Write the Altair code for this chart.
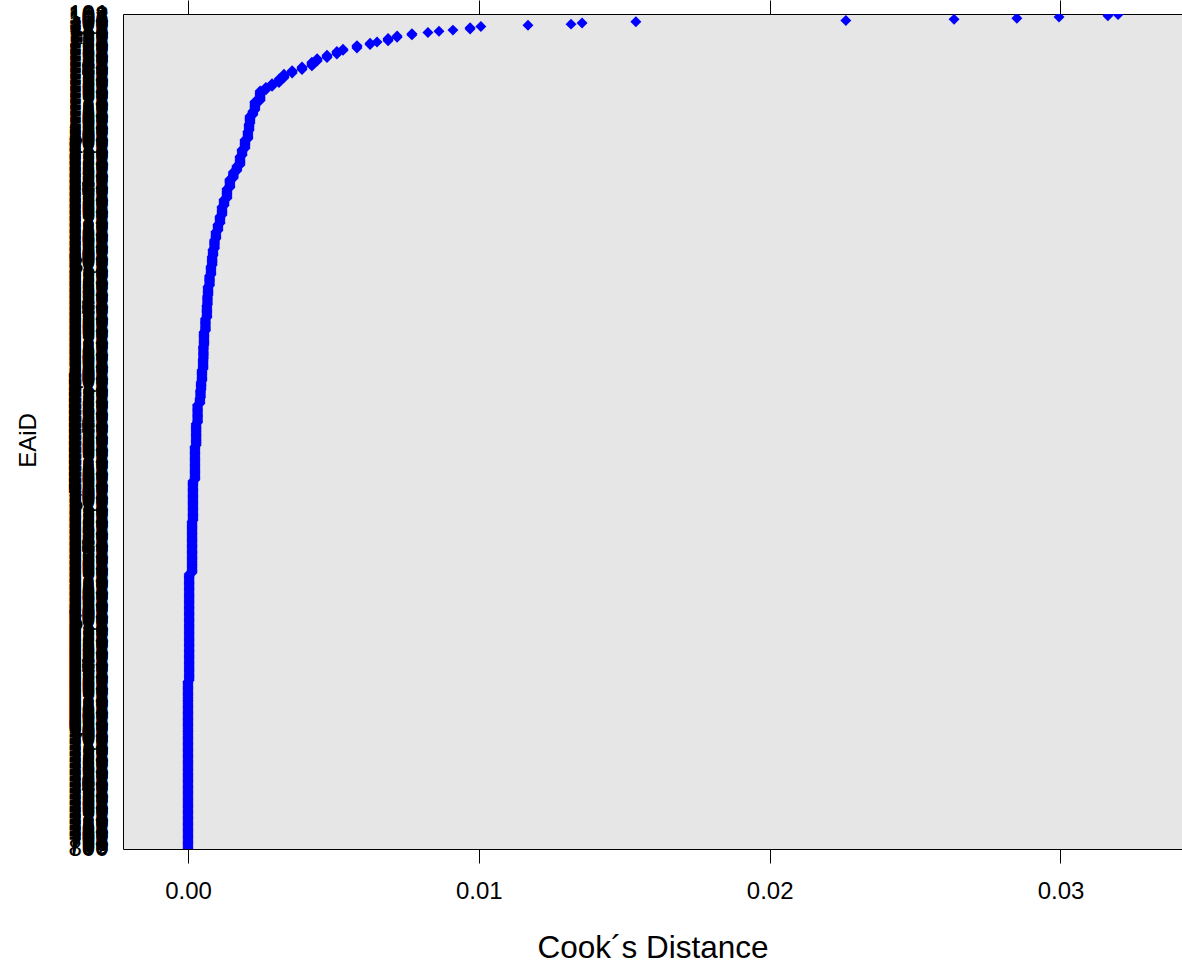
import altair as alt
import numpy as np
import pandas as pd

# ---- data ----
# largest Cook's distances, one point each (top of the dot plot)
top_values = [0.03198, 0.03163, 0.02995, 0.02850, 0.02634, 0.02262,
              0.01540, 0.01355, 0.01317, 0.01169, 0.01007]
# remaining points, as runs of (value, number of points) read down the curve
run_values = [0.00970, 0.00911, 0.00863, 0.00825, 0.00770, 0.00719, 0.00688,
              0.00650, 0.00626, 0.00581, 0.00533, 0.00512, 0.00478, 0.00444,
              0.00426, 0.00392, 0.00358, 0.00330, 0.00313, 0.00289, 0.00268,
              0.00248, 0.00230, 0.00223, 0.00213, 0.00210,
              0.00206, 0.00196, 0.00186, 0.00179, 0.00168, 0.00156, 0.00144,
              0.00134, 0.00124, 0.00117, 0.00110, 0.00103, 0.00096, 0.00091,
              0.00086, 0.00083, 0.00079, 0.00074, 0.00069, 0.00067, 0.00065,
              0.00060, 0.00055, 0.00053, 0.00052, 0.00048, 0.00045, 0.00043,
              0.00041, 0.00033, 0.00028, 0.00024, 0.00017, 0.00014, 0.00004,
              0.00000]
run_counts = [2, 1, 1, 1, 2, 2, 3,
              1, 2, 3, 2, 3, 3, 3,
              4, 3, 3, 4, 4, 3, 3,
              9, 8, 4, 7, 6,
              7, 8, 6, 8, 5, 6, 8,
              9, 6, 8, 7, 6, 7, 8,
              6, 8, 8, 9, 8, 8, 11,
              11, 12, 11, 9, 10, 7, 7,
              5, 16, 19, 29, 34, 44, 90,
              141]
x_ticks = [0.00, 0.01, 0.02, 0.03]
x_domain = [-0.002235, 0.034178]

values = list(top_values) + [float(v) for v in np.repeat(run_values, run_counts)]
ids = [str(101 + i) for i in range(len(values))]  # EAiD labels (unreadable in source)
df = pd.DataFrame({"EAiD": ids, "cooks": values, "rank": list(range(len(values)))})

FONT = "Liberation Sans"
xscale = alt.Scale(domain=x_domain, nice=False, zero=False)

points = alt.Chart(df).mark_point(
    shape="diamond", filled=True, size=120, color="#0000ff", opacity=1, clip=True
).encode(
    x=alt.X("cooks:Q", scale=xscale,
            axis=alt.Axis(values=x_ticks, format=".2f", grid=False,
                          labelFontSize=24, labelFont=FONT, labelColor="black",
                          labelPadding=16, labelFlush=False,
                          tickSize=14, tickColor="black", tickWidth=1,
                          domainColor="black", domainWidth=1,
                          title="Cook\u00b4s Distance", titleFont=FONT,
                          titleFontSize=31.5, titleFontWeight="normal",
                          titleColor="black", titleX=529.5, titleY=108,
                          titleBaseline="alphabetic")),
    y=alt.Y("EAiD:N",
            sort=alt.EncodingSortField(field="rank", op="min", order="ascending"),
            scale=alt.Scale(padding=0.5),
            axis=alt.Axis(ticks=False, tickSize=0, labelOverlap=False,
                          labelFontSize=24, labelFont=FONT, labelColor="black",
                          labelPadding=15, domain=True, domainColor="black",
                          domainWidth=1, grid=False,
                          title="EAiD", titleFont=FONT, titleFontSize=24,
                          titleFontWeight="normal", titleColor="black",
                          titleAngle=270, titleX=-88, titleY=426,
                          titleBaseline="alphabetic")),
)

top_axis = alt.Chart(df).mark_point(opacity=0).encode(
    x=alt.X("cooks:Q", scale=xscale,
            axis=alt.Axis(orient="top", values=x_ticks, labels=False, grid=False,
                          tickSize=14, tickColor="black", tickWidth=1,
                          domainColor="black", domainWidth=1, title=None)),
)

chart = alt.layer(points, top_axis).resolve_axis(x="independent").properties(
    width=1059, height=835,
    background="white",
    autosize=alt.AutoSizeParams(type="none"),
    padding={"left": 123, "top": 14, "right": 0, "bottom": 119},
).configure_view(stroke=None, fill="#e6e6e6")

chart.save("out.html", embed_options={"renderer": "svg", "actions": False})
